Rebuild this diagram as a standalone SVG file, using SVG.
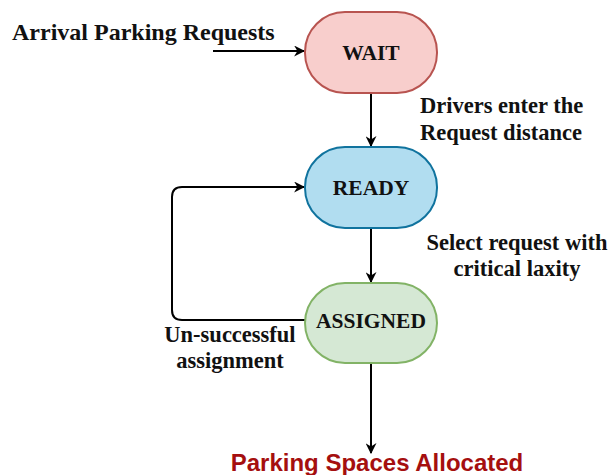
<svg xmlns="http://www.w3.org/2000/svg" width="610" height="475" viewBox="0 0 610 475">
  <defs>
    <marker id="arrow" viewBox="0 0 10 10" refX="9" refY="5" markerWidth="11" markerHeight="11" markerUnits="userSpaceOnUse" orient="auto">
      <path d="M0,0 L10,5 L0,10 L3,5 Z" fill="#000"/>
    </marker>
    <style>
      .lbl { font-family: "Liberation Serif", "Times New Roman", serif; font-weight: bold; fill: #111; }
      .edge { fill: none; stroke: #000; stroke-width: 2; }
      .state { stroke-width: 2; }
    </style>
  </defs>
  <rect width="610" height="475" fill="#fff"/>

  <!-- connectors -->
  <g id="connectors">
    <path class="edge" d="M213,51 L304,51" marker-end="url(#arrow)"/>
    <path class="edge" d="M371,93 L371,146" marker-end="url(#arrow)"/>
    <path class="edge" d="M371,228 L371,282" marker-end="url(#arrow)"/>
    <path class="edge" d="M305,320 L182,320 Q172,320 172,310 L172,197 Q172,187 182,187 L304,187" marker-end="url(#arrow)"/>
    <path class="edge" d="M371,363 L371,453" marker-end="url(#arrow)"/>
  </g>

  <!-- edge labels -->
  <g id="labels">
    <text class="lbl" x="12" y="40" font-size="24">Arrival Parking Requests</text>
    <text class="lbl" x="420" y="113" font-size="22.5">Drivers enter the</text>
    <text class="lbl" x="420" y="140" font-size="22.5">Request distance</text>
    <text class="lbl" x="517" y="250" font-size="22.5" text-anchor="middle">Select request with</text>
    <text class="lbl" x="517" y="276" font-size="22.5" text-anchor="middle">critical laxity</text>
    <text class="lbl" x="230" y="342" font-size="22.5" text-anchor="middle">Un-successful</text>
    <text class="lbl" x="230" y="368" font-size="22.5" text-anchor="middle">assignment</text>
    <text x="377" y="471" font-size="24" font-weight="bold" fill="#a50f0f" text-anchor="middle" font-family="'Liberation Sans', Arial, sans-serif">Parking Spaces Allocated</text>
  </g>

  <g id="wait">
    <rect class="state" x="305" y="12" width="132" height="81" rx="40" fill="#f8cecc" stroke="#b85450"/>
    <text class="lbl" x="371" y="60" font-size="21.5" text-anchor="middle">WAIT</text>
  </g>
  <g id="ready">
    <rect class="state" x="305" y="147" width="132" height="81" rx="40" fill="#b1ddf0" stroke="#10739e"/>
    <text class="lbl" x="371" y="195" font-size="21.5" text-anchor="middle">READY</text>
  </g>
  <g id="assigned">
    <rect class="state" x="305" y="283" width="132" height="80" rx="40" fill="#d5e8d4" stroke="#82b366"/>
    <text class="lbl" x="371" y="328" font-size="21.5" text-anchor="middle">ASSIGNED</text>
  </g>
</svg>
